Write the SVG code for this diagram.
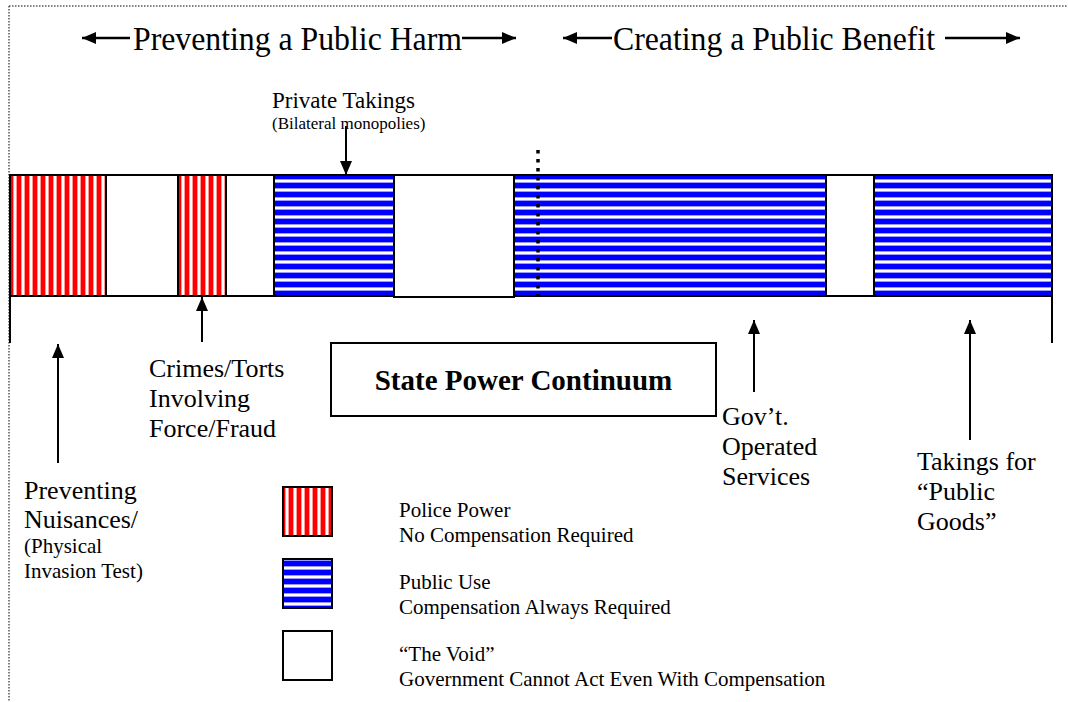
<svg xmlns="http://www.w3.org/2000/svg" width="1068" height="702" viewBox="0 0 1068 702">
<style>
.t{font-family:"Liberation Serif","Times New Roman",serif;fill:#000}
.big{font-size:26px}
.mid{font-size:23px}
.sm{font-size:21px}
.seg{stroke:#000;stroke-width:2}
.arr{stroke:#000;stroke-width:2;fill:none;marker-end:url(#ah)}
.harr{stroke:#000;stroke-width:2.5;fill:none;marker-end:url(#hh)}
</style>
<defs>
<pattern id="red" width="8" height="10" patternUnits="userSpaceOnUse">
<rect width="8" height="10" fill="#fff"/>
<rect x="0" width="1" height="10" fill="#ff9999"/>
<rect x="1" width="4" height="10" fill="#ff0000"/>
<rect x="5" width="1" height="10" fill="#ff9999"/>
</pattern>
<pattern id="blue" width="10" height="9" patternUnits="userSpaceOnUse">
<rect width="10" height="9" fill="#fff"/>
<rect y="2" width="10" height="1" fill="#9999ff"/>
<rect y="3" width="10" height="5" fill="#0000ff"/>
<rect y="8" width="10" height="1" fill="#9999ff"/>
</pattern>
<marker id="ah" markerUnits="userSpaceOnUse" markerWidth="14" markerHeight="12" refX="14" refY="6" orient="auto">
<path d="M0,0 L14,6 L0,12 z" fill="#000"/>
</marker>
<marker id="hh" markerUnits="userSpaceOnUse" markerWidth="14" markerHeight="12" refX="14" refY="6" orient="auto">
<path d="M0,0 L14,6 L0,12 z" fill="#000"/>
</marker>
</defs>
<rect width="1068" height="702" fill="#fff"/>
<g id="frame" stroke="#555" stroke-width="1.5" stroke-dasharray="1.5 1.5" fill="none">
<line x1="9" y1="6" x2="1068" y2="6"/>
<line x1="9" y1="6" x2="9" y2="702"/>
</g>
<g id="header-harm">
<line class="harr" x1="130" y1="38" x2="82" y2="38"/>
<text class="t" x="133" y="50" font-size="34" textLength="329" lengthAdjust="spacingAndGlyphs">Preventing a Public Harm</text>
<line class="harr" x1="462" y1="38" x2="516" y2="38"/>
</g>
<g id="header-benefit">
<line class="harr" x1="612" y1="38" x2="563" y2="38"/>
<text class="t" x="613" y="50" font-size="34" textLength="322" lengthAdjust="spacingAndGlyphs">Creating a Public Benefit</text>
<line class="harr" x1="945" y1="38" x2="1020" y2="38"/>
</g>
<g id="continuum">
<rect class="seg" x="10" y="175" width="96" height="121" fill="url(#red)"/>
<rect class="seg" x="106" y="175" width="72" height="121" fill="#fff"/>
<rect class="seg" x="178" y="175" width="48" height="121" fill="url(#red)"/>
<rect class="seg" x="226" y="175" width="48" height="121" fill="#fff"/>
<rect class="seg" x="274" y="175" width="120" height="121" fill="url(#blue)"/>
<rect class="seg" x="394" y="175" width="120" height="122" fill="#fff"/>
<rect class="seg" x="514" y="175" width="312" height="121" fill="url(#blue)"/>
<rect class="seg" x="826" y="175" width="48" height="121" fill="#fff"/>
<rect class="seg" x="874" y="175" width="178" height="121" fill="url(#blue)"/>
<line x1="538" y1="150" x2="538" y2="295" stroke="#000" stroke-width="3.5" stroke-dasharray="3.5 5.5"/>
<line x1="10" y1="296" x2="10" y2="343" stroke="#000" stroke-width="2"/>
<line x1="1052" y1="296" x2="1052" y2="343" stroke="#000" stroke-width="2"/>
</g>
<g id="private-takings">
<text class="t mid" x="272" y="108">Private Takings</text>
<text class="t" x="272" y="129" font-size="17">(Bilateral monopolies)</text>
</g>
<g id="crimes">
<text class="t big" x="149" y="377">Crimes/Torts</text>
<text class="t big" x="149" y="407">Involving</text>
<text class="t big" x="149" y="437">Force/Fraud</text>
</g>
<g id="nuisances">
<text class="t big" x="24" y="499">Preventing</text>
<text class="t big" x="24" y="528">Nuisances/</text>
<text class="t sm" x="24" y="553">(Physical</text>
<text class="t sm" x="24" y="578">Invasion Test)</text>
</g>
<g id="title-box">
<rect x="331" y="343" width="385" height="73" fill="#fff" stroke="#000" stroke-width="2"/>
<text class="t" x="523.5" y="390" font-size="29" font-weight="bold" text-anchor="middle">State Power Continuum</text>
</g>
<g id="govt">
<text class="t big" x="722" y="425">Gov’t.</text>
<text class="t big" x="722" y="455">Operated</text>
<text class="t big" x="722" y="485">Services</text>
</g>
<g id="public-goods">
<text class="t big" x="917" y="470">Takings for</text>
<text class="t big" x="917" y="500">“Public</text>
<text class="t big" x="917" y="530">Goods”</text>
</g>
<g id="legend">
<rect class="seg" x="283" y="487" width="49" height="49" fill="url(#red)"/>
<text class="t sm" x="399" y="517">Police Power</text>
<text class="t sm" x="399" y="542">No Compensation Required</text>
<rect class="seg" x="283" y="559" width="49" height="49" fill="url(#blue)"/>
<text class="t sm" x="399" y="589">Public Use</text>
<text class="t sm" x="399" y="614">Compensation Always Required</text>
<rect class="seg" x="283" y="631" width="49" height="49" fill="#fff"/>
<text class="t sm" x="399" y="661">“The Void”</text>
<text class="t sm" x="399" y="686">Government Cannot Act Even With Compensation</text>
</g>
<g id="connectors">
<line class="arr" x1="346" y1="126" x2="346" y2="175"/>
<line class="arr" x1="202" y1="342" x2="202" y2="297"/>
<line class="arr" x1="58" y1="463" x2="58" y2="344"/>
<line class="arr" x1="754" y1="392" x2="754" y2="320"/>
<line class="arr" x1="970" y1="440" x2="970" y2="320"/>
</g>
</svg>
